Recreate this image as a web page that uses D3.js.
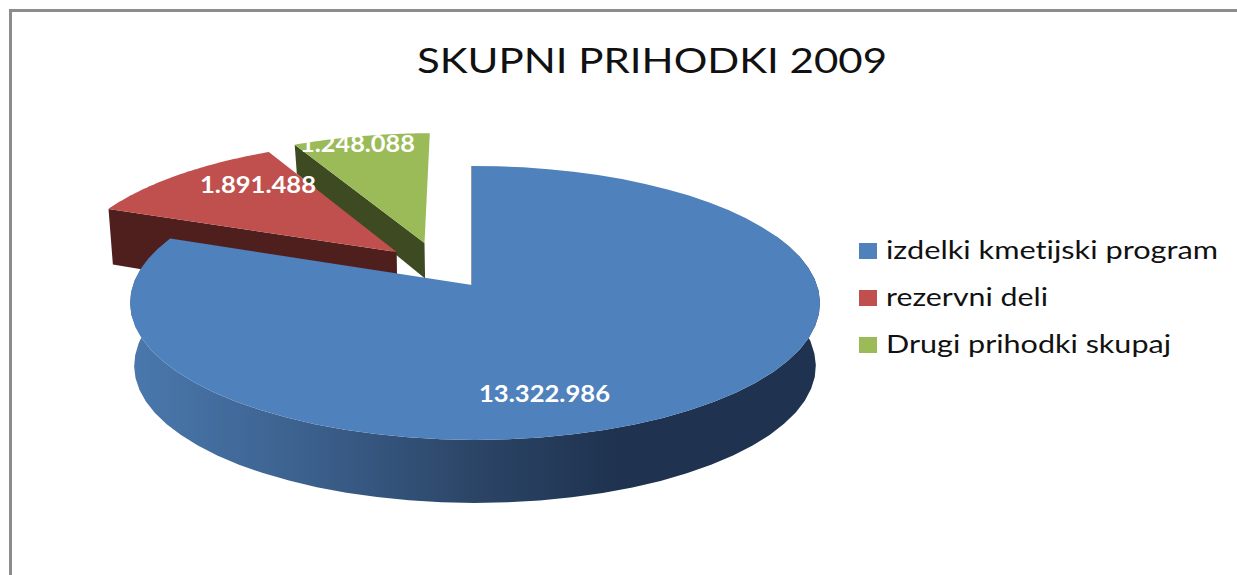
<!DOCTYPE html>
<html>
<meta charset="utf-8">
<style>
body { margin: 0; background: #fff; }
svg { display: block; }
text { font-variant-ligatures: none; }
</style>
<body>
<script src="https://cdnjs.cloudflare.com/ajax/libs/d3/7.8.5/d3.min.js"></script>
<script>
var w = 1237, h = 575;

// data
var categories = ["izdelki kmetijski program", "rezervni deli", "Drugi prihodki skupaj"];
var values = [13322986, 1891488, 1248088];
var valueLabels = ["13.322.986", "1.891.488", "1.248.088"];
var title = "SKUPNI PRIHODKI 2009";

var colors = ["#4f81bd", "#c0504d", "#9bbb59"];
var wallColors = [null, "#4f1f1e", "#3e4a22"];

// how far each slice is pulled out of the pie (disk units), and its wall height
var explode = [[0, 0], [-0.228, 0.253], [-0.145, 0.325]];
var wallScale = [1, 1, 0.6];

var svg = d3.select("body").append("svg").attr("width", w).attr("height", h);

// chart frame, only top and left survive in the crop
svg.append("path")
    .attr("d", "M10.5,575V10.5H1237")
    .attr("fill", "none")
    .attr("stroke", "#8c8c8c")
    .attr("stroke-width", 3);

// the original text is stretched sideways, so let the glyphs stretch too
svg.append("text")
    .attr("x", 417).attr("y", 73)
    .attr("textLength", 470)
    .attr("lengthAdjust", "spacingAndGlyphs")
    .attr("font-family", "Lato")
    .attr("font-size", 35)
    .attr("fill", "#111")
    .text(title);

// perspective projection of the unit disk on to the page
var cx = 472, cy = 285, k = 0.131, m = -0.0087;
function project(u, v) {
    var d = 1 + k * v + m * u;
    return [cx + 342 * u / d, cy - 134.6 * v / d];
}
// same point on the underside of the pie
function projectLow(u, v, scale) {
    var p = project(u, v);
    return [cx + (p[0] - cx) * 0.988, p[1] + (63 - 12 * Math.max(v, 0)) * scale];
}

var arcs = d3.pie().sort(null).value(function(d) { return d; })(values);
var line = d3.line();

function rim(a) {
    var pts = d3.range(0, 61).map(function(i) {
        return a.startAngle + (a.endAngle - a.startAngle) * i / 60;
    });
    return pts.map(function(t) { return [Math.sin(t), Math.cos(t)]; });
}

var defs = svg.append("defs");
var grad = defs.append("linearGradient")
    .attr("id", "blueWall")
    .attr("gradientUnits", "userSpaceOnUse")
    .attr("x1", 130).attr("x2", 820).attr("y1", 0).attr("y2", 0);
[[0, "#4a78ad"], [0.25, "#3c618e"], [0.49, "#2c4668"], [0.7, "#1f3350"], [1, "#1f3350"]].forEach(function(s) {
    grad.append("stop").attr("offset", s[0]).attr("stop-color", s[1]);
});

// green first, it sits behind the red one, blue goes on top
[2, 1, 0].forEach(function(i) {
    var a = arcs[i], e = explode[i], g = svg.append("g");
    var r = rim(a).map(function(p) { return [p[0] + e[0], p[1] + e[1]]; });
    var apex = [e[0], e[1]];

    if (i === 0) {
        // outer wall of the big slice, front part only
        var front = r.filter(function(p) { return p[1] < 0.42; });
        var wall = front.map(function(p) { return project(p[0], p[1]); })
            .concat(front.slice().reverse().map(function(p) { return projectLow(p[0], p[1], 1); }));
        g.append("path").attr("d", line(wall) + "Z").attr("fill", "url(#blueWall)");
        // thin visible edge of the cut at 12 o'clock
        g.append("path")
            .attr("d", line([project(apex[0], apex[1]), project(r[0][0], r[0][1])]))
            .attr("stroke", "#1f3350").attr("stroke-width", 1);
    } else {
        // cut face on the left of the slice
        var p0 = r[0];
        var cut = [project(p0[0], p0[1]), project(apex[0], apex[1]),
                   projectLow(apex[0], apex[1], wallScale[i]), projectLow(p0[0], p0[1], wallScale[i])];
        g.append("path").attr("d", line(cut) + "Z").attr("fill", wallColors[i]);
    }

    var top = [apex].concat(r).map(function(p) { return project(p[0], p[1]); });
    g.append("path").attr("d", line(top) + "Z").attr("fill", colors[i]);
});

// value labels
var labelX = [479, 200, 300];
var labelY = [402, 193, 152];
var labelWidth = [131, 116, 115];
valueLabels.forEach(function(t, i) {
    svg.append("text")
        .attr("x", labelX[i]).attr("y", labelY[i])
        .attr("textLength", labelWidth[i])
        .attr("lengthAdjust", "spacingAndGlyphs")
        .attr("font-family", "Lato")
        .attr("font-weight", 700)
        .attr("font-size", 22)
        .attr("fill", "#fff")
        .text(t);
});

// legend
var legendY = d3.scalePoint().domain(categories).range([251, 345]);
var legendWidth = [332, 162, 285];
var legend = svg.selectAll(".legend")
    .data(categories)
    .enter()
    .append("g")
    .attr("class", "legend")
    .attr("transform", function(d) { return "translate(0," + legendY(d) + ")"; });

legend.append("rect")
    .attr("x", 859).attr("y", -8)
    .attr("width", 18).attr("height", 16)
    .attr("fill", function(d, i) { return colors[i]; });

legend.append("text")
    .attr("x", 886).attr("y", 8)
    .attr("textLength", function(d, i) { return legendWidth[i]; })
    .attr("lengthAdjust", "spacingAndGlyphs")
    .attr("font-family", "Lato")
    .attr("font-size", 25)
    .attr("fill", "#111")
    .text(function(d) { return d; });
</script>
</body>
</html>
